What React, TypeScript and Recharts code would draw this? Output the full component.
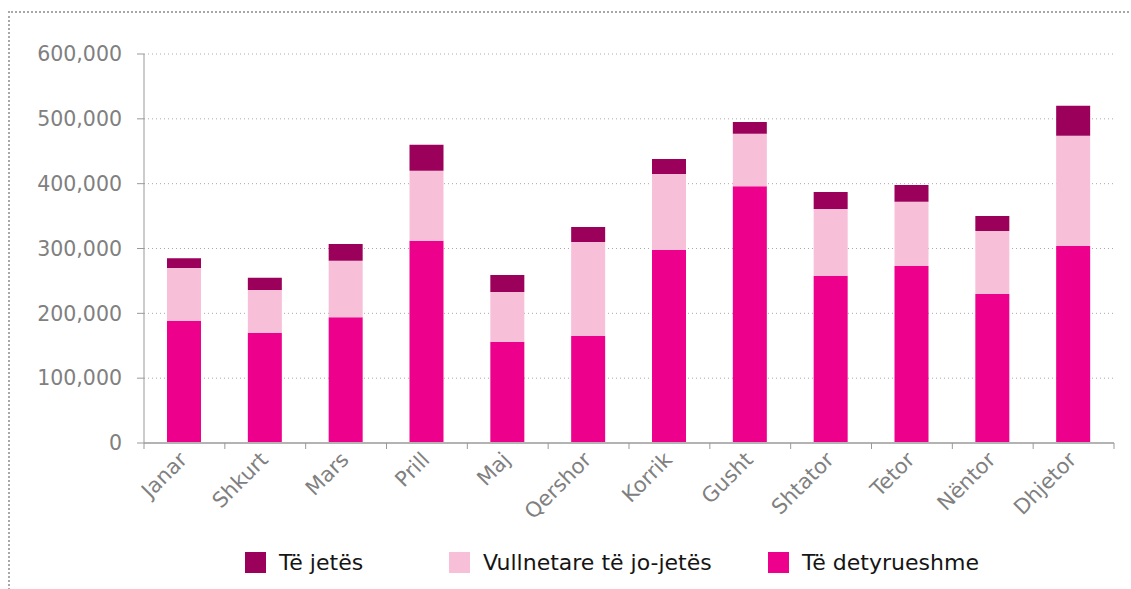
import React from 'react';
import { BarChart, Bar, XAxis, YAxis, CartesianGrid } from 'recharts';

// monthly amounts by scheme type
const months = ['Janar', 'Shkurt', 'Mars', 'Prill', 'Maj', 'Qershor', 'Korrik', 'Gusht', 'Shtator', 'Tetor', 'Nëntor', 'Dhjetor'];
const detyrueshme = [188000, 170000, 194000, 312000, 156000, 165000, 298000, 396000, 258000, 273000, 230000, 304000];
const vullnetare = [82000, 66000, 87000, 108000, 77000, 145000, 117000, 81000, 103000, 99000, 97000, 170000];
const jetes = [15000, 19000, 26000, 40000, 26000, 23000, 23000, 18000, 26000, 26000, 23000, 46000];
const yTicks = [0, 100000, 200000, 300000, 400000, 500000, 600000];

const data = months.map((m, i) => ({
  month: m,
  detyrueshme: detyrueshme[i],
  vullnetare: vullnetare[i],
  jetes: jetes[i],
}));

// stacking order, bottom to top
const series = [
  { key: 'detyrueshme', name: 'Të detyrueshme', color: '#ec008c' },
  { key: 'vullnetare', name: 'Vullnetare të jo-jetës', color: '#f7bfd8' },
  { key: 'jetes', name: 'Të jetës', color: '#9b005a' },
];

const W = 1131;
const H = 589;
const MARGIN = { top: 54, right: 17, bottom: 86, left: 44 };
const Y_AXIS_W = 100;
const X_AXIS_H = 60;
const PLOT_W = W - MARGIN.left - Y_AXIS_W - MARGIN.right;
const LEGEND_WIDTHS = [204, 319, 220];
const FONT = '"DejaVu Sans", Verdana, sans-serif';

const MonthTick = ({ x, y, index, payload }: any) => {
  const half = PLOT_W / months.length / 2;
  return (
    <g>
      <line x1={x - half} x2={x - half} y1={y - 8} y2={y - 2} stroke="#999" />
      {index === months.length - 1 && (
        <line x1={x + half} x2={x + half} y1={y - 8} y2={y - 2} stroke="#999" />
      )}
      <text
        transform={`translate(${x + 4},${y + 10}) rotate(-45)`}
        textAnchor="end"
        fill="#808080"
        fontSize={21}
        fontFamily={FONT}
      >
        {payload.value}
      </text>
    </g>
  );
};

export default function App() {
  const legendItems = [...series].reverse();
  return (
    <div style={{ position: 'fixed', left: 0, top: 0, width: W, height: H, fontFamily: FONT, background: '#fff' }}>
      {/* dotted frame on the top and left edges */}
      <div
        style={{
          position: 'absolute',
          left: 8,
          top: 11,
          width: W - 8,
          height: H + 20,
          borderTop: '2px dotted #a8a8a8',
          borderLeft: '2px dotted #a8a8a8',
        }}
      />
      <div style={{ position: 'absolute', left: 0, top: 0 }}>
        <BarChart width={W} height={H} data={data} margin={MARGIN} barSize={34}>
          <CartesianGrid vertical={false} stroke="#aaa" strokeDasharray="1 3" />
          <XAxis
            dataKey="month"
            interval={0}
            height={X_AXIS_H}
            tick={<MonthTick />}
            tickLine={false}
            tickSize={6}
            tickMargin={2}
            axisLine={{ stroke: '#b3b3b3', strokeWidth: 2 }}
          />
          <YAxis
            width={Y_AXIS_W}
            domain={[0, 600000]}
            ticks={yTicks}
            interval={0}
            tickFormatter={(v) => v.toLocaleString('en-US')}
            tick={{ fill: '#808080', fontSize: 20.5, fontFamily: FONT }}
            tickSize={7}
            tickMargin={15}
            tickLine={{ stroke: '#999' }}
            axisLine={{ stroke: '#999' }}
          />
          {series.map((s) => (
            <Bar key={s.key} dataKey={s.key} name={s.name} stackId="a" fill={s.color} isAnimationActive={false} />
          ))}
        </BarChart>
      </div>
      <div style={{ position: 'absolute', left: 245, top: 552, display: 'flex' }}>
        {legendItems.map((s, i) => (
          <div key={s.key} style={{ width: LEGEND_WIDTHS[i], display: 'flex', alignItems: 'flex-start' }}>
            <span style={{ width: 21, height: 21, background: s.color, display: 'inline-block', flex: 'none' }} />
            <span style={{ marginLeft: 13, fontSize: 22, lineHeight: '21px', color: '#151515', whiteSpace: 'nowrap' }}>
              {s.name}
            </span>
          </div>
        ))}
      </div>
    </div>
  );
}
